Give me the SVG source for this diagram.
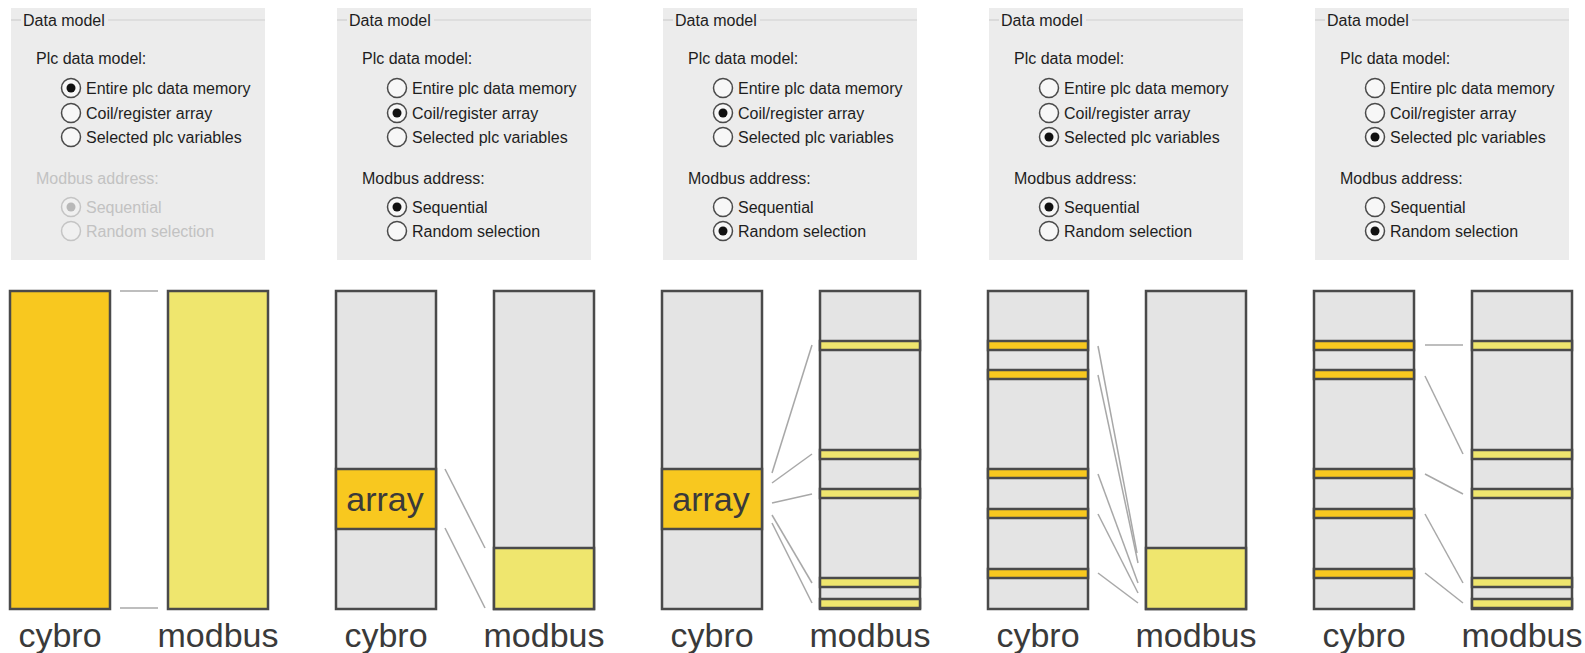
<svg xmlns="http://www.w3.org/2000/svg" width="1585" height="653" viewBox="0 0 1585 653">
<style>
.dlg{fill:#ececec}
.gl{stroke:#cfcfcf;stroke-width:1.2}
.t{font-family:"Liberation Sans",Arial,sans-serif;font-size:16px;fill:#1e1e1e}
.dis{fill:#c2c2c2}
.rb{fill:#f7f7f7;stroke:#4a4a4a;stroke-width:1.5}
.rbd{fill:#f0f0f0;stroke:#c4c4c4;stroke-width:1.5}
.dot{fill:#111}
.dotd{fill:#b8b8b8}
.gray{fill:#e4e4e4;stroke:#4a4a4a;stroke-width:2.5}
.cy{fill:#f8c81f;stroke:#4a4a4a;stroke-width:2.5}
.mb{fill:#efe66e;stroke:#4a4a4a;stroke-width:2.5}
.lab{font-family:"Liberation Sans",Arial,sans-serif;font-size:34px;fill:#3a3a3a;text-anchor:middle}
.cn{stroke:#a8a8a8;stroke-width:1.5;fill:none}
</style>
<defs>
<g id="dlgbase">
<rect class="dlg" x="11" y="8" width="254" height="252"/>
<line class="gl" x1="11" y1="20" x2="21" y2="20"/>
<line class="gl" x1="108" y1="20" x2="265" y2="20"/>
<text class="t" x="23" y="26">Data model</text>
<text class="t" x="36" y="64">Plc data model:</text>
<text class="t" x="86" y="94">Entire plc data memory</text>
<text class="t" x="86" y="119">Coil/register array</text>
<text class="t" x="86" y="143">Selected plc variables</text>
</g>
</defs>

<g id="panel1">
<use href="#dlgbase"/>
<circle class="rb" cx="71" cy="88" r="9.5"/><circle class="dot" cx="71" cy="88" r="4.5"/>
<circle class="rb" cx="71" cy="113" r="9.5"/>
<circle class="rb" cx="71" cy="137" r="9.5"/>
<text class="t dis" x="36" y="184">Modbus address:</text>
<circle class="rbd" cx="71" cy="207" r="9.5"/><circle class="dotd" cx="71" cy="207" r="4.5"/>
<text class="t dis" x="86" y="213">Sequential</text>
<circle class="rbd" cx="71" cy="231" r="9.5"/>
<text class="t dis" x="86" y="237">Random selection</text>
<rect class="cy" x="10" y="291" width="100" height="318"/>
<rect class="mb" x="168" y="291" width="100" height="318"/>
<text class="lab" x="60" y="647">cybro</text>
<text class="lab" x="218" y="647">modbus</text>
</g>

<g id="panel2" transform="translate(326,0)">
<use href="#dlgbase"/>
<circle class="rb" cx="71" cy="88" r="9.5"/>
<circle class="rb" cx="71" cy="113" r="9.5"/><circle class="dot" cx="71" cy="113" r="4.5"/>
<circle class="rb" cx="71" cy="137" r="9.5"/>
<text class="t" x="36" y="184">Modbus address:</text>
<circle class="rb" cx="71" cy="207" r="9.5"/><circle class="dot" cx="71" cy="207" r="4.5"/>
<text class="t" x="86" y="213">Sequential</text>
<circle class="rb" cx="71" cy="231" r="9.5"/>
<text class="t" x="86" y="237">Random selection</text>
<rect class="gray" x="10" y="291" width="100" height="318"/>
<rect class="cy" x="10" y="469" width="100" height="60"/>
<text class="lab" x="59" y="511">array</text>
<rect class="gray" x="168" y="291" width="100" height="318"/>
<rect class="mb" x="168" y="548" width="100" height="61"/>
<text class="lab" x="60" y="647">cybro</text>
<text class="lab" x="218" y="647">modbus</text>
</g>

<g id="panel3" transform="translate(652,0)">
<use href="#dlgbase"/>
<circle class="rb" cx="71" cy="88" r="9.5"/>
<circle class="rb" cx="71" cy="113" r="9.5"/><circle class="dot" cx="71" cy="113" r="4.5"/>
<circle class="rb" cx="71" cy="137" r="9.5"/>
<text class="t" x="36" y="184">Modbus address:</text>
<circle class="rb" cx="71" cy="207" r="9.5"/>
<text class="t" x="86" y="213">Sequential</text>
<circle class="rb" cx="71" cy="231" r="9.5"/><circle class="dot" cx="71" cy="231" r="4.5"/>
<text class="t" x="86" y="237">Random selection</text>
<rect class="gray" x="10" y="291" width="100" height="318"/>
<rect class="cy" x="10" y="469" width="100" height="60"/>
<text class="lab" x="59" y="511">array</text>
<rect class="gray" x="168" y="291" width="100" height="318"/>
<rect class="mb" x="168" y="341" width="100" height="9"/>
<rect class="mb" x="168" y="450" width="100" height="9"/>
<rect class="mb" x="168" y="489" width="100" height="9"/>
<rect class="mb" x="168" y="578" width="100" height="9"/>
<rect class="mb" x="168" y="599" width="100" height="9"/>
<text class="lab" x="60" y="647">cybro</text>
<text class="lab" x="218" y="647">modbus</text>
</g>

<g id="panel4" transform="translate(978,0)">
<use href="#dlgbase"/>
<circle class="rb" cx="71" cy="88" r="9.5"/>
<circle class="rb" cx="71" cy="113" r="9.5"/>
<circle class="rb" cx="71" cy="137" r="9.5"/><circle class="dot" cx="71" cy="137" r="4.5"/>
<text class="t" x="36" y="184">Modbus address:</text>
<circle class="rb" cx="71" cy="207" r="9.5"/><circle class="dot" cx="71" cy="207" r="4.5"/>
<text class="t" x="86" y="213">Sequential</text>
<circle class="rb" cx="71" cy="231" r="9.5"/>
<text class="t" x="86" y="237">Random selection</text>
<rect class="gray" x="10" y="291" width="100" height="318"/>
<rect class="cy" x="10" y="341" width="100" height="9"/>
<rect class="cy" x="10" y="370" width="100" height="9"/>
<rect class="cy" x="10" y="469" width="100" height="9"/>
<rect class="cy" x="10" y="509" width="100" height="9"/>
<rect class="cy" x="10" y="569" width="100" height="9"/>
<rect class="gray" x="168" y="291" width="100" height="318"/>
<rect class="mb" x="168" y="548" width="100" height="61"/>
<text class="lab" x="60" y="647">cybro</text>
<text class="lab" x="218" y="647">modbus</text>
</g>

<g id="panel5" transform="translate(1304,0)">
<use href="#dlgbase"/>
<circle class="rb" cx="71" cy="88" r="9.5"/>
<circle class="rb" cx="71" cy="113" r="9.5"/>
<circle class="rb" cx="71" cy="137" r="9.5"/><circle class="dot" cx="71" cy="137" r="4.5"/>
<text class="t" x="36" y="184">Modbus address:</text>
<circle class="rb" cx="71" cy="207" r="9.5"/>
<text class="t" x="86" y="213">Sequential</text>
<circle class="rb" cx="71" cy="231" r="9.5"/><circle class="dot" cx="71" cy="231" r="4.5"/>
<text class="t" x="86" y="237">Random selection</text>
<rect class="gray" x="10" y="291" width="100" height="318"/>
<rect class="cy" x="10" y="341" width="100" height="9"/>
<rect class="cy" x="10" y="370" width="100" height="9"/>
<rect class="cy" x="10" y="469" width="100" height="9"/>
<rect class="cy" x="10" y="509" width="100" height="9"/>
<rect class="cy" x="10" y="569" width="100" height="9"/>
<rect class="gray" x="168" y="291" width="100" height="318"/>
<rect class="mb" x="168" y="341" width="100" height="9"/>
<rect class="mb" x="168" y="450" width="100" height="9"/>
<rect class="mb" x="168" y="489" width="100" height="9"/>
<rect class="mb" x="168" y="578" width="100" height="9"/>
<rect class="mb" x="168" y="599" width="100" height="9"/>
<text class="lab" x="60" y="647">cybro</text>
<text class="lab" x="218" y="647">modbus</text>
</g>

<g id="connectors">
<line class="cn" x1="120" y1="291" x2="158" y2="291"/>
<line class="cn" x1="120" y1="608" x2="158" y2="608"/>
<line class="cn" x1="445" y1="469" x2="485" y2="548"/>
<line class="cn" x1="445" y1="528" x2="485" y2="608"/>
<line class="cn" x1="772" y1="473" x2="812" y2="345"/>
<line class="cn" x1="772" y1="483" x2="812" y2="454"/>
<line class="cn" x1="772" y1="503" x2="812" y2="494"/>
<line class="cn" x1="772" y1="515" x2="812" y2="583"/>
<line class="cn" x1="772" y1="523" x2="812" y2="603"/>
<line class="cn" x1="1098" y1="346" x2="1137" y2="553"/>
<line class="cn" x1="1098" y1="375" x2="1138" y2="563"/>
<line class="cn" x1="1098" y1="474" x2="1138" y2="583"/>
<line class="cn" x1="1098" y1="514" x2="1138" y2="593"/>
<line class="cn" x1="1098" y1="573" x2="1138" y2="603"/>
<line class="cn" x1="1425" y1="345" x2="1463" y2="345"/>
<line class="cn" x1="1425" y1="376" x2="1463" y2="454"/>
<line class="cn" x1="1425" y1="474" x2="1463" y2="494"/>
<line class="cn" x1="1425" y1="514" x2="1463" y2="583"/>
<line class="cn" x1="1425" y1="573" x2="1463" y2="603"/>
</g>
</svg>
